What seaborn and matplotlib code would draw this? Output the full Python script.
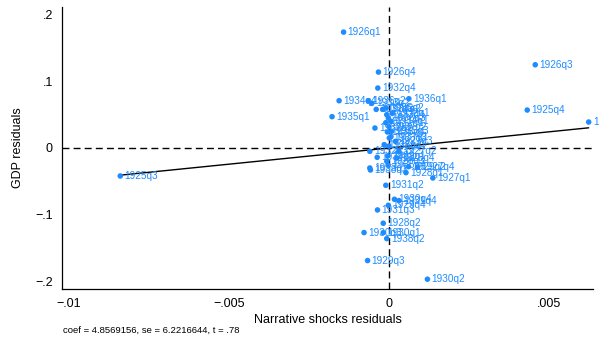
import numpy as np
import pandas as pd
import matplotlib
matplotlib.use("Agg")
import matplotlib.pyplot as plt
import seaborn as sns

# ---- data ----
labels = ["1926q1", "1926q3", "1925q4", "1925q2", "1925q3", "1926q4", "1932q4",
          "1934q4", "1936q2", "1933q2", "1936q1", "1935q1", "1937q3", "1934q2",
          "1935q2", "1933q4", "1936q3", "1934q1", "1937q2", "1932q2", "1935q3",
          "1936q4", "1937q1", "1933q3", "1938q1", "1932q3", "1934q3", "1929q1",
          "1928q3", "1935q4", "1933q1", "1938q3", "1927q4", "1929q2", "1928q1",
          "1927q1", "1931q2", "1930q4", "1931q4", "1929q4", "1931q3", "1928q2",
          "1930q3", "1930q1", "1938q2", "1929q3", "1930q2", "1927q2", "1927q3",
          "1928q4", "1932q1", "1931q1", "1926q2"]
shock_resid = [-0.00142, 0.00457, 0.00432, 0.00624, -0.00840, -0.00033, -0.00035,
               -0.00156, -0.00065, -0.00054, 0.00062, -0.00178, -0.00040, -0.00020,
               -0.00009, -0.00007, -0.00002, 0.00006, 0.00000, -0.00044, 0.00008,
               -0.00005, 0.00006, 0.00001, 0.00000, -0.00060, -0.00037, -0.00004,
               -0.00007, -0.00003, -0.00060, -0.00058, 0.00089, 0.00061, 0.00053,
               0.00137, -0.00010, 0.00017, 0.00031, -0.00002, -0.00036, -0.00018,
               -0.00078, -0.00018, -0.00007, -0.00067, 0.00120, 0.00030, 0.00020,
               0.00025, 0.00010, -0.00010, -0.00015]
gdp_resid = [0.174, 0.125, 0.057, 0.039, -0.042, 0.114, 0.090,
             0.071, 0.071, 0.067, 0.074, 0.047, 0.058, 0.058,
             0.060, 0.050, 0.045, 0.040, 0.032, 0.030, 0.025,
             0.024, 0.017, 0.015, 0.003, -0.005, -0.014, -0.012,
             -0.020, -0.026, -0.030, -0.033, -0.029, -0.028, -0.037,
             -0.045, -0.056, -0.077, -0.079, -0.086, -0.093, -0.113,
             -0.127, -0.127, -0.136, -0.169, -0.197, -0.005, 0.010,
             -0.015, 0.052, 0.038, 0.005]
coef = 4.8569156
se = 6.2216644
tstat = 0.78

xticks = [-0.01, -0.005, 0.0, 0.005]
xtick_labels = ["\u2212.01", "\u2212.005", "0", ".005"]
yticks = [-0.2, -0.1, 0.0, 0.1, 0.2]
ytick_labels = ["\u2212.2", "\u2212.1", "0", ".1", ".2"]

df = pd.DataFrame({"x": shock_resid, "y": gdp_resid, "lab": labels})

# ---- plotting ----
sns.set_theme(style="white")
plt.rcParams["font.family"] = ["Liberation Sans", "DejaVu Sans"]

blue = "#1E8CFF"
fig = plt.figure(figsize=(5.99, 3.47), dpi=100)
ax = fig.add_axes([62 / 599, 1 - 289 / 347, (593 - 62) / 599, (289 - 7) / 347])

ax.axhline(0, color="black", lw=1.0, ls=(0, (5, 3)), zorder=1)
ax.axvline(0, color="black", lw=1.0, ls=(0, (5, 3)), zorder=1)

sns.scatterplot(data=df, x="x", y="y", ax=ax, color=blue, s=16,
                edgecolor="none", linewidth=0, zorder=3, legend=False)

for xv, yv, lab in zip(df["x"], df["y"], df["lab"]):
    ax.annotate(lab, (xv, yv), xytext=(3, 0), textcoords="offset points",
                ha="left", va="center", fontsize=7.2, color=blue, zorder=4,
                annotation_clip=False)

line_df = pd.DataFrame({"x": [min(shock_resid), max(shock_resid)]})
line_df["y"] = coef * line_df["x"]
sns.lineplot(data=line_df, x="x", y="y", ax=ax, color="black", lw=1.0, zorder=2)

ax.set_xlim(-0.01022, 0.006375)
ax.set_ylim(-0.2117, 0.2117)
ax.set_xticks(xticks)
ax.set_xticklabels(xtick_labels)
ax.set_yticks(yticks)
ax.set_yticklabels(ytick_labels)
ax.tick_params(axis="both", direction="out", length=4.5, width=0.8,
               labelsize=9, colors="black", pad=2)
ax.tick_params(axis="y", labelrotation=0)

for side in ["top", "right"]:
    ax.spines[side].set_visible(False)
for side in ["left", "bottom"]:
    ax.spines[side].set_color("black")
    ax.spines[side].set_linewidth(0.9)

ax.set_xlabel("Narrative shocks residuals", fontsize=9, color="black", labelpad=3)
ax.set_ylabel("GDP residuals", fontsize=9, color="black", labelpad=8)

fig.text(63 / 599, 1 - 330 / 347,
         f"coef = {coef}, se = {se}, t = .78",
         fontsize=6.8, color="black", ha="left", va="center")

fig.savefig("out.png", dpi=100, facecolor="white")
